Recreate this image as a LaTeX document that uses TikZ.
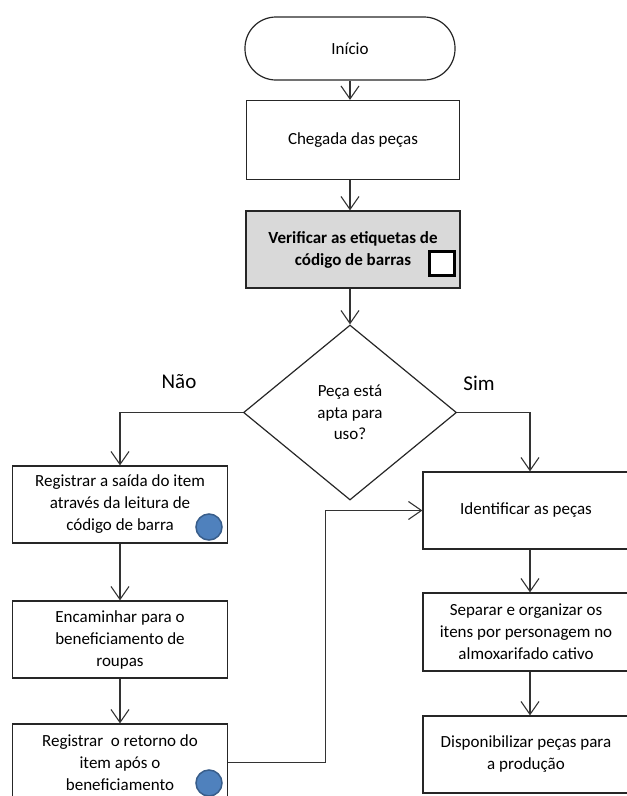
\documentclass[tikz,border=0pt]{standalone}
\usepackage{fontspec}
\setmainfont{Carlito}
\usetikzlibrary{shapes.geometric,arrows.meta}
\begin{document}
\begin{tikzpicture}[x=1pt,y=-1pt,
  font=\fontsize{17}{22}\selectfont,
  line width=1.2pt,
  box/.style={draw=black!85, fill=white, rectangle, align=center, inner sep=2pt},
  arr/.style={draw=black!80, -{Straight Barb[length=13pt,width=18pt,line width=1.1pt]}},
  dotstyle/.style={circle, fill=dotblue, draw=dotedge, line width=1.5pt, minimum size=26pt, inner sep=0pt},
]
\useasboundingbox (0,0) rectangle (627,796);
\definecolor{dotblue}{HTML}{4F81BD}
\definecolor{dotedge}{HTML}{385D8A}
\definecolor{grayfill}{HTML}{D9D9D9}

\node[draw=black!85, rounded corners=31pt, minimum width=210pt, minimum height=63pt] (start) at (350,48.5) {Início};
\node[box, minimum width=213pt, minimum height=79pt] (cheg) at (353,140) {Chegada das peças};
\node[box, fill=grayfill, minimum width=214pt, minimum height=77pt, font=\fontsize{17}{22}\selectfont\bfseries] (ver) at (353,249.5) {Verificar as etiquetas de\\código de barras};
\node[draw=black, line width=3pt, fill=white, minimum width=25pt, minimum height=24pt, inner sep=0pt] (sq) at (442,263.5) {};
\node[draw=black!85, diamond, inner sep=0pt, minimum width=213pt, minimum height=175pt, align=center, font=\fontsize{17}{21.5}\selectfont] (dec) at (350,412.5) {Peça está\\apta para\\uso?};
\node (nao) at (179,382) {\fontsize{21}{21}\selectfont Não};
\node (sim) at (479,383) {\fontsize{21}{21}\selectfont Sim};

\node[box, minimum width=215pt, minimum height=77pt] (reg1) at (120,504.5) {Registrar a saída do item\\através da leitura de\\código de barra};
\node[box, minimum width=215pt, minimum height=77pt] (enc) at (120,639.5) {Encaminhar para o\\beneficiamento de\\roupas};
\node[box, minimum width=215pt, minimum height=77pt] (reg2) at (120,762.5) {Registrar\ \ o retorno do\\item após o\\beneficiamento};

\node[box, minimum width=206pt, minimum height=77pt] (ident) at (526,510.5) {Identificar as peças};
\node[box, minimum width=206pt, minimum height=78pt] (sep) at (526,632) {Separar e organizar os\\itens por personagem no\\almoxarifado cativo};
\node[box, minimum width=206pt, minimum height=77pt] (disp) at (526,754.5) {Disponibilizar peças para\\a produção};

\node[dotstyle] (c1) at (209,527) {};
\node[dotstyle] (c2) at (209,783) {};

\draw[arr] (start) -- (start |- cheg.north);
\draw[arr] (cheg.south -| start) -- (start |- ver.north);
\draw[arr] (ver.south -| start) -- (dec.north);
\draw[arr] (dec.west) -| (reg1.north);
\draw[arr] (dec.east) -| ([xshift=4pt]ident.north);
\draw[arr] (reg1) -- (enc);
\draw[arr] (enc) -- (reg2);
\draw[arr] (reg2.east) -- ++(97,0) |- (ident.west);
\draw[arr] ([xshift=4pt]ident.south) -- ([xshift=4pt]sep.north);
\draw[arr] ([xshift=4pt]sep.south) -- ([xshift=4pt]disp.north);
\end{tikzpicture}
\end{document}
